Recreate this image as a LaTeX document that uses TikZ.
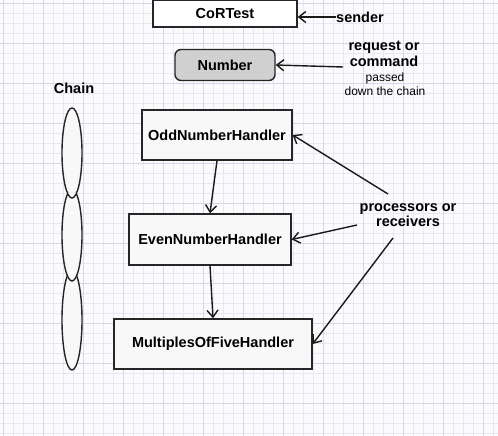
\documentclass[tikz,border=0pt]{standalone}
\usepackage{fontspec}
\setmainfont{Liberation Sans}
\usetikzlibrary{arrows.meta,shapes.geometric}
\definecolor{gridminor}{RGB}{232,232,242}
\definecolor{gridmajor}{RGB}{214,214,230}
\definecolor{bgc}{RGB}{251,251,253}
\definecolor{numfill}{RGB}{208,208,208}
\definecolor{boxfill}{RGB}{248,248,248}
\tikzset{
  box/.style={draw=black!85,line width=1.4pt,fill=boxfill,inner sep=0pt,font=\fontsize{14.5}{16}\selectfont\bfseries},
  lbl/.style={inner sep=0pt,align=center,font=\fontsize{14.5}{15.5}\selectfont\bfseries},
  small/.style={font=\fontsize{12}{14}\selectfont},
  link/.style={ellipse,draw=black!85,line width=1.4pt,fill=boxfill,inner sep=0pt},
  arr/.style={draw=black!90,line width=1.4pt,-{Straight Barb[length=7pt,width=11pt,line width=1.4pt]}}
}
\begin{document}
\begin{tikzpicture}[x=1pt,y=-1pt]
\useasboundingbox (0,0) rectangle (498,436);
\fill[bgc] (0,0) rectangle (498,436);
\foreach \i in {0,...,50} {
  \draw[gridminor,line width=0.6pt] (\i*10+3,0) -- (\i*10+3,436);
}
\foreach \j in {0,...,44} {
  \draw[gridminor,line width=0.6pt] (0,\j*10+3) -- (498,\j*10+3);
}
\foreach \i in {0,...,12} {
  \draw[gridmajor,line width=0.6pt] (\i*40+3,0) -- (\i*40+3,436);
}
\foreach \j in {0,...,11} {
  \draw[gridmajor,line width=0.6pt] (0,\j*40+3) -- (498,\j*40+3);
}

% chain links
\node[link,minimum width=20pt,minimum height=100pt] (l3) at (72,320) {};
\node[link,minimum width=20pt,minimum height=92pt] (l2) at (72,235) {};
\node[link,minimum width=20pt,minimum height=90pt] (l1) at (72,153) {};
\node[lbl] (chain) at (74,88) {Chain};

% boxes
\node[box,fill=white,minimum width=144pt,minimum height=27pt] (cortest) at (225,13.5) {CoRTest};
\node[box,fill=numfill,rounded corners=6pt,minimum width=100pt,minimum height=31pt] (number) at (225,65) {Number};
\node[box,minimum width=150pt,minimum height=50pt] (odd) at (217,135) {OddNumberHandler};
\node[box,minimum width=162pt,minimum height=51pt] (even) at (210,239.5) {EvenNumberHandler};
\node[box,minimum width=198pt,minimum height=50pt] (mult) at (213,344) {MultiplesOfFiveHandler};

% labels
\node[lbl] (sender) at (360,17) {sender};
\node[lbl] (req) at (384,54) {request or\\command};
\node[small,align=center,inner sep=0pt] (passed) at (385,84) {passed\\down the chain};
\node[lbl] (proc) at (408,215) {processors or\\receivers};

\coordinate (reqend) at (343,67);
\coordinate (p1) at (388,194);
\coordinate (p2) at (357,225);
\coordinate (p3) at (393,238);

% connectors
\draw[arr] (sender.west) -- (cortest.east |- sender.west);
\draw[arr] (reqend) -- (number.east);
\draw[arr] (odd.south) -- (even.north);
\draw[arr] (even.south) -- (mult.north);
\draw[arr] (p1) -- (odd.east);
\draw[arr] (p2) -- (even.east);
\draw[arr] (p3) -- (mult.east);
\end{tikzpicture}
\end{document}
